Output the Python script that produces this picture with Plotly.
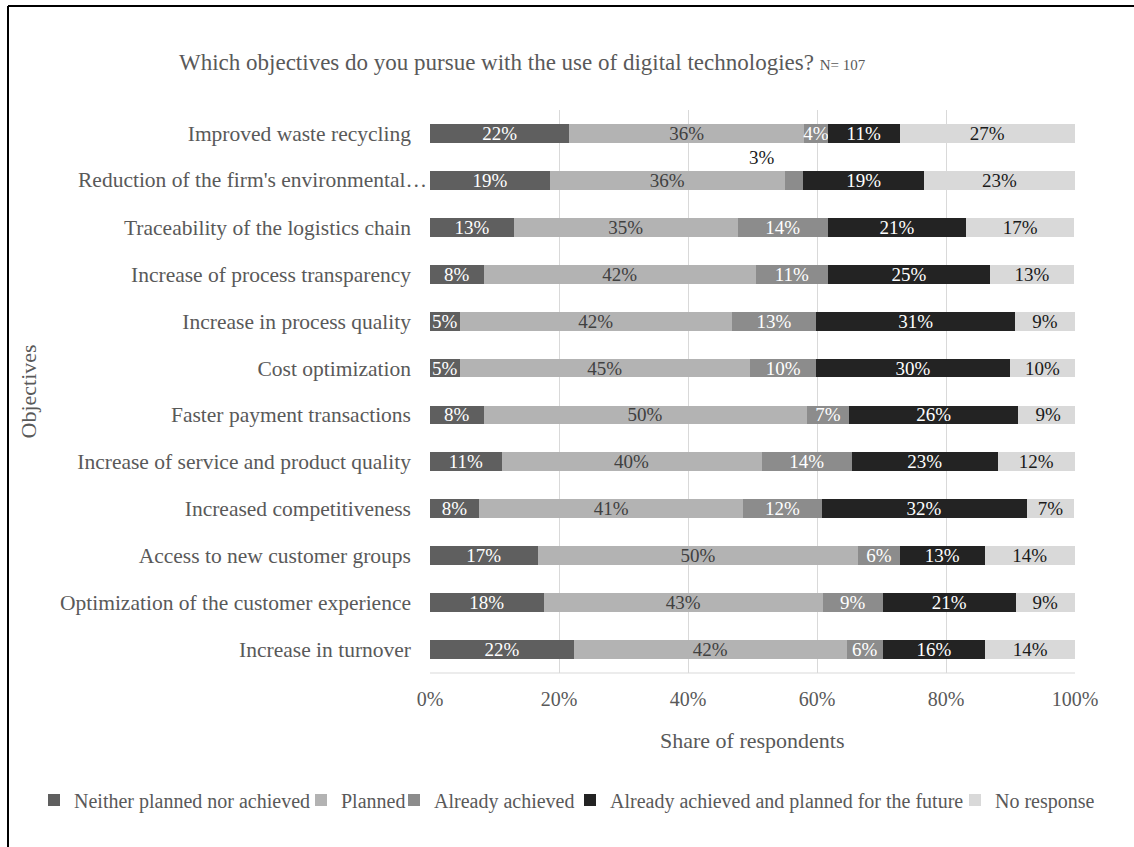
import plotly.graph_objects as go

categories = [
    "Improved waste recycling",
    "Reduction of the firm's environmental…",
    "Traceability of the logistics chain",
    "Increase of process transparency",
    "Increase in process quality",
    "Cost optimization",
    "Faster payment transactions",
    "Increase of service and product quality",
    "Increased competitiveness",
    "Access to new customer groups",
    "Optimization of the customer experience",
    "Increase in turnover",
]

series_names = [
    "Neither planned nor achieved",
    "Planned",
    "Already achieved",
    "Already achieved and planned for the future",
    "No response",
]

neither = [21.6, 18.6, 13.0, 8.3, 4.6, 4.6, 8.3, 11.1, 7.6, 16.7, 17.6, 22.3]
planned = [36.4, 36.4, 34.7, 42.2, 42.2, 45.0, 50.1, 40.3, 41.0, 49.7, 43.3, 42.3]
achieved = [3.7, 2.9, 14.0, 11.2, 13.1, 10.3, 6.6, 14.0, 12.1, 6.4, 9.3, 5.6]
achieved_future = [11.1, 18.7, 21.4, 25.1, 30.8, 30.0, 26.2, 22.6, 31.8, 13.2, 20.6, 15.9]
no_response = [27.2, 23.4, 16.8, 13.1, 9.3, 10.1, 9.3, 12.0, 7.4, 14.0, 9.2, 13.9]

series_values = [neither, planned, achieved, achieved_future, no_response]
colors = ["#5f5f5f", "#b3b3b3", "#8c8c8c", "#232323", "#d9d9d9"]
text_colors = ["#ffffff", "#404040", "#ffffff", "#ffffff", "#1a1a1a"]

tick_vals = [0, 20, 40, 60, 80, 100]
tick_text = ["0%", "20%", "40%", "60%", "80%", "100%"]

# label displayed outside its bar (small segment)
moved_label = (1, 2)  # (category index, series index)
# truncated category label that runs up to the plot edge
overflow_label = 1

FONT = "Liberation Serif, Times New Roman, serif"
GREY = "#595959"

W, H = 1134, 847
L, R, T, B = 430, 59, 110, 174
pw, ph = W - L - R, H - T - B

def px_x(px):
    return (px - L) / pw

def px_y(py):
    return (H - B - py) / ph

# left pixel of each legend entry (one legend per series, laid out in a row)
legend_left_px = [34, 301, 394, 570, 955]

fig = go.Figure()
for si, (name, vals) in enumerate(zip(series_names, series_values)):
    texts = []
    for ci, v in enumerate(vals):
        if (ci, si) == moved_label:
            texts.append("")
        else:
            texts.append(f"{int(v + 0.5)}%")
    fig.add_trace(go.Bar(
        y=categories, x=vals, name=name, orientation="h",
        marker=dict(color=colors[si], line=dict(width=0)),
        text=texts, textposition="inside", insidetextanchor="middle",
        textangle=0, constraintext="none",
        insidetextfont=dict(family=FONT, size=19, color=text_colors[si]),
        hoverinfo="skip",
        legend="legend" if si == 0 else f"legend{si + 1}",
    ))

# moved label annotation
ci, si = moved_label
start = sum(series_values[k][ci] for k in range(si))
end = start + series_values[si][ci]
annotations = [dict(
    x=(start + end) / 2 - 5, y=categories[ci], xref="x", yref="y",
    text=f"{int(series_values[si][ci] + 0.5)}%", showarrow=False,
    yshift=23, font=dict(family=FONT, size=19, color="#1a1a1a"),
)]

# truncated category label, reaching the bar edge
annotations.append(dict(
    x=px_x(429), y=categories[overflow_label], xref="paper", yref="y",
    text=categories[overflow_label], showarrow=False, xanchor="right", yanchor="middle",
    font=dict(family=FONT, size=21.5, color=GREY),
))

annotations.append(dict(
    x=px_x(522), y=px_y(63), xref="paper", yref="paper",
    text="Which objectives do you pursue with the use of digital technologies? <span style='font-size:15px'>N= 107</span>",
    showarrow=False, xanchor="center", yanchor="middle",
    font=dict(family=FONT, size=23, color=GREY),
))
annotations.append(dict(
    x=0.5, y=px_y(740), xref="paper", yref="paper",
    text="Share of respondents", showarrow=False, xanchor="center", yanchor="middle",
    font=dict(family=FONT, size=22, color=GREY),
))
annotations.append(dict(
    x=px_x(28), y=0.5, xref="paper", yref="paper",
    text="Objectives", showarrow=False, textangle=-90, xanchor="center", yanchor="middle",
    font=dict(family=FONT, size=22, color=GREY),
))

shapes = [
    dict(type="line", xref="paper", yref="paper",
         x0=px_x(8), x1=px_x(1140), y0=px_y(6), y1=px_y(6),
         line=dict(color="black", width=2)),
    dict(type="line", xref="paper", yref="paper",
         x0=px_x(8), x1=px_x(8), y0=px_y(6), y1=px_y(850),
         line=dict(color="black", width=2)),
    dict(type="line", xref="paper", yref="paper",
         x0=0, x1=1, y0=0, y1=0, layer="below",
         line=dict(color="#d9d9d9", width=1)),
]

legend_common = dict(
    orientation="h", xref="container", yref="container",
    xanchor="left", yanchor="middle",
    font=dict(family=FONT, size=20, color=GREY),
    itemwidth=30, bgcolor="rgba(0,0,0,0)", borderwidth=0,
)
legends = {}
for si in range(len(series_names)):
    key = "legend" if si == 0 else f"legend{si + 1}"
    legends[key] = dict(legend_common, x=legend_left_px[si] / W, y=1 - 800 / H)

y_ticktext = ["" if i == overflow_label else c for i, c in enumerate(categories)]

fig.update_layout(
    barmode="stack",
    bargap=0.6,
    width=W, height=H,
    margin=dict(l=L, r=R, t=T, b=B, autoexpand=False),
    paper_bgcolor="white", plot_bgcolor="white",
    font=dict(family=FONT, color=GREY),
    uniformtext=dict(minsize=19, mode="show"),
    showlegend=True,
    xaxis=dict(
        range=[0, 100], tickvals=tick_vals, ticktext=tick_text,
        showgrid=True, gridcolor="#d9d9d9", gridwidth=1, zeroline=False,
        showline=False, ticks="", ticklabelstandoff=12,
        tickfont=dict(family=FONT, size=20, color=GREY), fixedrange=True,
    ),
    yaxis=dict(
        autorange="reversed", showgrid=False, zeroline=False, showline=False,
        tickmode="array", tickvals=categories, ticktext=y_ticktext,
        ticks="", ticklabelstandoff=18,
        tickfont=dict(family=FONT, size=21.5, color=GREY), fixedrange=True,
    ),
    annotations=annotations,
    shapes=shapes,
    **legends,
)

fig.write_html(
    "out.html",
    config={"displayModeBar": False},
    post_script="document.body.style.margin='0px';",
)
